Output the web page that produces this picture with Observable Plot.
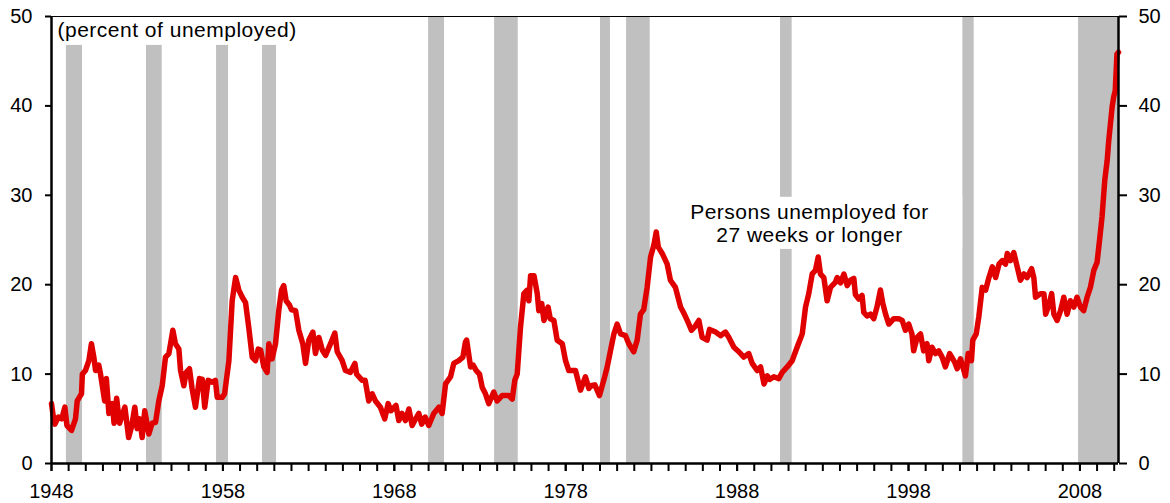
<!DOCTYPE html>
<html><head><meta charset="utf-8">
<script src="https://cdn.jsdelivr.net/npm/d3@7"></script>
<script src="https://cdn.jsdelivr.net/npm/@observablehq/plot@0.6"></script>
<style>
html,body{margin:0;padding:0;background:#fff}
svg{display:block}
</style>
</head><body><div id="chart"></div>
<script>
// ---- data ----
const years = [
1948.0,1948.1,1948.2,1948.4,1948.6,1948.78,1948.9,1949.17,1949.4,1949.5,1949.75,1949.8,1949.98,
1950.18,1950.33,1950.47,1950.57,1950.76,1950.86,1951.1,1951.2,1951.35,1951.55,1951.65,1951.8,1951.97,
1952.28,1952.5,1952.67,1952.86,1953.0,1953.15,1953.29,1953.44,1953.68,1953.87,1954.07,1954.26,1954.46,
1954.65,1954.85,1955.08,1955.23,1955.43,1955.53,1955.72,1955.86,1956.05,1956.2,1956.4,1956.63,1956.8,
1956.94,1957.14,1957.37,1957.56,1957.67,1957.96,1958.1,1958.35,1958.54,1958.74,1958.93,1959.13,1959.32,
1959.51,1959.71,1959.9,1960.06,1960.2,1960.39,1960.58,1960.68,1960.87,1961.07,1961.26,1961.42,1961.55,
1961.69,1961.89,1962.0,1962.24,1962.43,1962.66,1962.82,1963.01,1963.25,1963.4,1963.6,1963.8,1963.99,
1964.28,1964.53,1964.67,1964.96,1965.15,1965.44,1965.7,1965.8,1966.13,1966.3,1966.51,1966.71,1966.9,
1967.19,1967.44,1967.64,1967.8,1968.1,1968.26,1968.45,1968.65,1968.85,1969.04,1969.25,1969.43,1969.6,
1969.8,1970.01,1970.3,1970.6,1970.79,1970.99,1971.28,1971.47,1971.76,1972.0,1972.15,1972.22,1972.45,
1972.6,1972.78,1972.97,1973.13,1973.32,1973.51,1973.8,1974.0,1974.29,1974.68,1974.88,1975.03,1975.17,
1975.36,1975.56,1975.75,1975.85,1975.95,1976.15,1976.34,1976.43,1976.6,1976.73,1976.97,1977.1,1977.31,
1977.5,1977.8,1977.99,1978.18,1978.57,1978.86,1979.15,1979.35,1979.45,1979.7,1979.97,1980.22,1980.42,
1980.61,1980.81,1981.0,1981.2,1981.49,1981.68,1981.97,1982.17,1982.36,1982.55,1982.75,1982.95,1983.14,
1983.28,1983.4,1983.63,1983.92,1984.11,1984.4,1984.7,1984.9,1985.09,1985.34,1985.57,1985.77,1985.96,
1986.25,1986.39,1986.75,1987.03,1987.32,1987.52,1987.81,1988.1,1988.39,1988.68,1988.88,1989.17,1989.37,
1989.57,1989.76,1989.9,1990.14,1990.43,1990.63,1990.92,1991.21,1991.5,1991.8,1991.99,1992.18,1992.38,
1992.57,1992.73,1992.86,1993.06,1993.25,1993.45,1993.74,1993.84,1994.03,1994.23,1994.42,1994.61,1994.81,
1994.9,1995.1,1995.29,1995.39,1995.58,1995.78,1995.97,1996.16,1996.36,1996.49,1996.66,1996.85,1997.14,
1997.43,1997.63,1997.82,1998.01,1998.2,1998.3,1998.5,1998.7,1998.88,1999.08,1999.18,1999.37,1999.57,
1999.76,1999.96,2000.15,2000.4,2000.7,2000.84,2001.03,2001.17,2001.32,2001.48,2001.67,2001.75,2001.95,
2002.1,2002.3,2002.5,2002.69,2002.89,2003.08,2003.28,2003.47,2003.66,2003.76,2003.95,2004.14,2004.34,
2004.53,2004.73,2004.92,2005.18,2005.31,2005.41,2005.7,2005.9,2006.0,2006.2,2006.35,2006.48,2006.67,
2006.87,2007.06,2007.25,2007.44,2007.64,2007.83,2008.03,2008.22,2008.42,2008.61,2008.81,2009.0,2009.14,
2009.29,2009.45,2009.59,2009.68,2009.78,2009.88,2009.97,2010.06,2010.16,2010.25
];
const share = [
6.7,5.3,4.4,5.2,5.0,6.3,4.25,3.7,5.0,7.0,7.8,10.0,10.4,
11.5,13.4,11.9,10.4,11.0,10.0,7.0,9.5,5.6,6.7,4.5,7.3,4.5,
6.3,2.9,4.1,6.3,3.9,5.0,2.9,5.9,3.3,4.5,4.6,7.0,8.7,
11.9,12.3,14.9,13.4,12.8,10.4,8.7,10.2,10.6,8.4,6.3,9.5,9.4,
6.3,9.3,9.1,9.3,7.4,7.4,7.8,11.5,18.2,20.8,19.4,18.6,18.0,
15.2,11.9,11.5,12.8,12.7,10.8,10.2,13.4,11.7,13.4,17.1,19.4,19.9,
18.2,17.7,17.2,17.1,14.9,13.4,11.2,13.8,14.7,12.3,14.1,12.7,12.1,
13.4,14.6,12.5,11.5,10.4,10.2,11.2,10.0,9.3,9.3,7.0,7.8,7.0,
6.3,5.0,6.7,5.9,6.5,4.8,5.6,4.8,6.1,4.25,5.0,5.6,4.4,
5.2,4.25,5.6,6.3,5.6,8.9,9.7,11.2,11.5,11.9,13.6,13.8,10.8,
11.0,10.4,10.0,8.5,7.8,6.7,8.0,7.0,7.6,7.6,7.2,9.3,10.0,
15.2,19.0,19.4,18.2,21.0,21.0,19.0,17.1,17.9,16.0,17.5,16.2,16.0,
13.8,13.4,11.5,10.4,10.4,8.2,9.7,8.4,8.7,8.8,7.6,9.3,10.8,
12.6,14.5,15.6,14.5,14.3,13.4,12.5,13.8,16.7,17.2,19.7,23.1,24.4,
25.9,24.2,23.5,22.3,20.5,19.7,17.5,16.8,16.0,14.9,15.4,16.0,14.1,
13.8,15.0,14.7,14.3,14.7,14.1,13.0,12.5,11.9,12.3,11.2,10.4,10.8,
8.9,9.8,9.4,9.7,9.5,10.2,10.8,11.5,13.0,14.5,17.5,19.0,21.2,
21.6,23.1,21.2,20.8,18.2,19.7,20.3,20.8,20.2,21.2,19.9,20.5,20.7,
18.9,18.4,18.8,16.9,16.5,16.7,16.2,17.5,19.4,18.0,16.7,15.6,16.2,
16.2,16.0,14.9,15.6,14.5,12.6,14.1,14.5,12.6,13.4,11.5,13.0,12.3,
12.6,11.9,10.8,12.3,11.3,10.6,11.7,10.8,9.8,12.3,11.5,13.8,14.5,
16.4,19.7,19.4,20.8,22.0,20.8,22.3,22.7,22.3,23.5,22.7,23.6,22.0,
20.5,21.2,20.8,21.8,20.8,18.6,19.0,19.0,16.7,17.8,19.0,16.7,16.0,
17.1,18.6,16.7,18.2,17.5,18.6,17.5,17.1,18.6,19.7,21.6,22.5,24.9,
27.6,31.7,33.9,36.1,38.0,39.9,41.0,41.7,45.8,46.0
];
const recessionStart = [1948.87,1953.54,1957.63,1960.31,1970.0,1973.85,1980.03,1981.55,1990.53,2001.17,2007.92];
const recessionEnd   = [1949.81,1954.46,1958.33,1961.13,1970.93,1975.23,1980.61,1982.93,1991.21,2001.83,2010.25];
const yTicks = [0,10,20,30,40,50];
const xLabelYears = [1948,1958,1968,1978,1988,1998,2008];
const xTickYears = d3.range(1948, 2011);
const unitsLabel = "(percent of unemployed)";
const seriesLabel = ["Persons unemployed for", "27 weeks or longer"];

// ---- tables ----
const series = years.map((x, i) => ({x, y: share[i]}));
const recessions = recessionStart.map((s, i) => ({x1: s, x2: recessionEnd[i]}));

const FONT = "'Liberation Sans', Arial, Helvetica, sans-serif";
const xDomain = [1948, years[years.length - 1]];

const chart = Plot.plot({
  width: 1170,
  height: 503,
  marginLeft: 51,
  marginRight: 52,
  marginTop: 16,
  marginBottom: 40,
  style: {fontFamily: FONT, fontSize: "20px", color: "#000", background: "#fff", overflow: "visible"},
  x: {domain: xDomain},
  y: {domain: [0, 50]},
  marks: [
    Plot.rect(recessions, {x1: "x1", x2: "x2", y1: 0, y2: 50, fill: "#c0c0c0"}),
    Plot.text([unitsLabel], {frameAnchor: "top-left", dx: 6, dy: 6, textAnchor: "start", lineAnchor: "top",
      fontSize: 21, fill: "#000", fontFamily: FONT}),
    Plot.text([seriesLabel.join("\n")], {x: 1992.22, y: 26.85, textAnchor: "middle", lineAnchor: "middle",
      lineHeight: 1.1, fontSize: 21, fill: "#000", fontFamily: FONT}),
    Plot.line(series, {x: "x", y: "y", stroke: "#e00000", strokeWidth: 5.5,
      strokeLinejoin: "round", strokeLinecap: "round", curve: "linear"}),
    Plot.ruleY([50], {stroke: "#000", strokeWidth: 1}),
    Plot.ruleX(xDomain, {stroke: "#000", strokeWidth: 2.5}),
    Plot.ruleY([0], {stroke: "#000", strokeWidth: 2.5}),
    Plot.axisY(yTicks, {anchor: "left", tickSize: 6, tickPadding: 13, strokeWidth: 2, fontSize: 20, label: null, tickFormat: d => d}),
    Plot.axisY(yTicks, {anchor: "right", tickSize: 8, tickPadding: 12, strokeWidth: 2, fontSize: 20, label: null, tickFormat: d => d}),
    Plot.axisX(xTickYears, {anchor: "bottom", tickSize: 8, strokeWidth: 2, tickFormat: () => "", label: null}),
    Plot.axisX(xLabelYears, {anchor: "bottom", tickSize: 8, tickPadding: 12, strokeWidth: 2, fontSize: 20, label: null, tickFormat: d => String(d)})
  ]
});

document.getElementById("chart").appendChild(chart);

// white boxes behind the two text annotations (cover the recession bands)
const pads = [{px: 6, top: 10, bottom: 10}, {px: 34, top: 3, bottom: 3}];
const textGroups = chart.querySelectorAll('g[aria-label="text"]');
textGroups.forEach((g, i) => {
  g.setAttribute("letter-spacing", "0.5");
  const b = g.getBBox();
  const p = pads[i] || {px: 4, top: 4, bottom: 4};
  const x = Math.max(b.x - p.px, 51 + 1.25);
  const y = Math.max(b.y - p.top, 16.5);
  const r = document.createElementNS("http://www.w3.org/2000/svg", "rect");
  r.setAttribute("x", x);
  r.setAttribute("y", y);
  r.setAttribute("width", b.x + b.width + p.px - x);
  r.setAttribute("height", b.y + b.height + p.bottom - y);
  r.setAttribute("fill", "#fff");
  g.parentNode.insertBefore(r, g);
});
</script>
</body></html>
